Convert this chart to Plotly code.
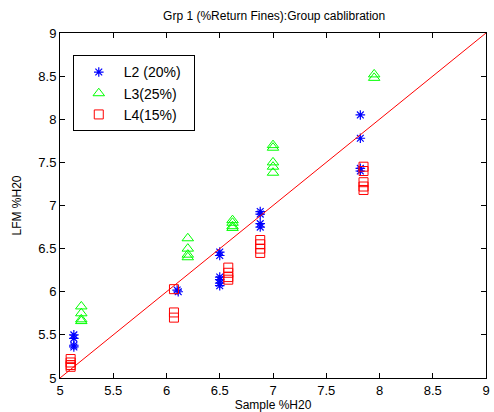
import plotly.graph_objects as go

# L2 (20%) - blue stars
l2_x = [5.13, 5.13, 5.13, 5.13, 6.10, 6.11, 6.50, 6.50, 6.50, 6.50, 6.50, 6.50,
        6.88, 6.88, 6.88, 6.88, 7.82, 7.82, 7.82, 7.82]
l2_y = [5.50, 5.46, 5.38, 5.36, 6.02, 6.00, 6.46, 6.42, 6.17, 6.14, 6.10, 6.07,
        6.93, 6.90, 6.79, 6.75, 8.05, 7.78, 7.43, 7.40]
# L3 (25%) - green triangles
l3_x = [5.20, 5.20, 5.20, 5.20, 6.20, 6.20, 6.20, 6.20, 6.62, 6.62, 6.62, 6.62,
        7.00, 7.00, 7.00, 7.00, 7.00, 7.95, 7.95]
l3_y = [5.83, 5.75, 5.68, 5.66, 6.62, 6.50, 6.43, 6.40, 6.83, 6.80, 6.76, 6.74,
        7.70, 7.67, 7.50, 7.45, 7.38, 8.52, 8.48]
# L4 (15%) - red squares
l4_x = [5.10, 5.10, 5.10, 5.10, 6.07, 6.07, 6.07, 6.58, 6.58, 6.58, 6.58,
        6.88, 6.88, 6.88, 6.88, 7.85, 7.85, 7.85, 7.85, 7.85]
l4_y = [5.22, 5.18, 5.15, 5.13, 6.03, 5.76, 5.70, 6.28, 6.22, 6.17, 6.14,
        6.60, 6.55, 6.50, 6.45, 7.45, 7.40, 7.27, 7.22, 7.18]
# Calibration line
line_x = [5, 9]
line_y = [5, 9]

fig = go.Figure()
fig.add_trace(go.Scatter(x=l2_x, y=l2_y, mode="markers", name="L2 (20%)  ",
                         marker=dict(symbol="asterisk-open", size=8, color="blue",
                                     line=dict(color="blue", width=1.2))))
fig.add_trace(go.Scatter(x=l3_x, y=l3_y, mode="markers", name="L3(25%)",
                         marker=dict(symbol="triangle-up-open", size=10, color="#00ff00",
                                     line=dict(color="#00ff00", width=1))))
fig.add_trace(go.Scatter(x=l4_x, y=l4_y, mode="markers", name="L4(15%)",
                         marker=dict(symbol="square-open", size=9, color="red",
                                     line=dict(color="red", width=1))))
fig.add_trace(go.Scatter(x=line_x, y=line_y, mode="lines", showlegend=False,
                         line=dict(color="red", width=1)))

axis_common = dict(showgrid=False, zeroline=False, showline=True, mirror="ticks",
                   linecolor="black", linewidth=1, ticks="inside", ticklen=5,
                   tickcolor="black", tickfont=dict(size=13, color="black", family="Arial"))

fig.update_layout(
    width=494, height=412,
    margin=dict(l=60, r=4, t=33, b=34),
    paper_bgcolor="white", plot_bgcolor="white",
    title=dict(text="Grp 1 (%Return Fines):Group cablibration", x=0.555, xanchor="center",
               y=0.962, yanchor="middle", font=dict(size=12, family="Arial", color="black")),
    xaxis=dict(range=[5, 9], dtick=0.5, tick0=5,
               title=dict(text="Sample %H20", font=dict(size=12, family="Arial", color="black"), standoff=2),
               **axis_common),
    yaxis=dict(range=[5, 9], dtick=0.5, tick0=5,
               title=dict(text="LFM %H20", font=dict(size=12, family="Arial", color="black"), standoff=14),
               **axis_common),
    legend=dict(x=0.03, y=0.935, xanchor="left", yanchor="top", bgcolor="white",
                bordercolor="black", borderwidth=1, font=dict(size=14, family="Arial", color="black"),
                itemsizing="trace", tracegroupgap=0, itemwidth=40),
    showlegend=True,
)

fig.write_html("out.html")
